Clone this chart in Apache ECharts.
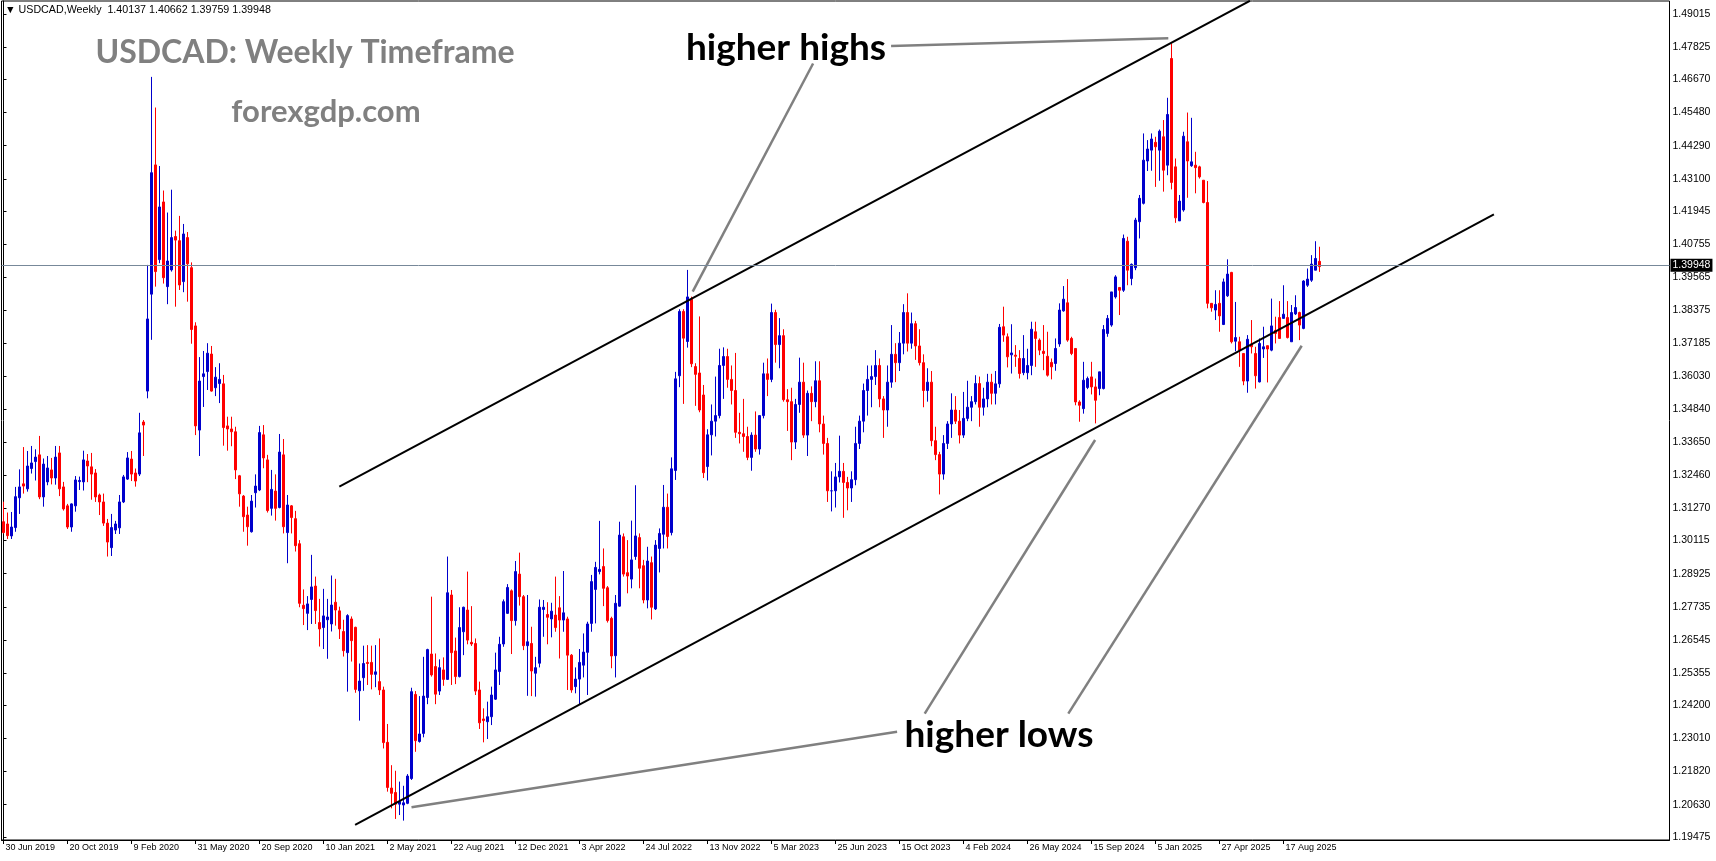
<!DOCTYPE html>
<html><head><meta charset="utf-8">
<script src="https://cdn.jsdelivr.net/npm/echarts@6/dist/echarts.min.js"></script>
<style>html,body{margin:0;padding:0;background:#fff;}#c{width:1716px;height:861px;}</style>
</head><body><div id="c"></div>
<script>
const symbolName = 'USDCAD';
const timeframe = 'Weekly';
const totalSlots = 417;
const xTickLabels = ['30 Jun 2019','20 Oct 2019','9 Feb 2020','31 May 2020','20 Sep 2020','10 Jan 2021','2 May 2021','22 Aug 2021','12 Dec 2021','3 Apr 2022','24 Jul 2022','13 Nov 2022','5 Mar 2023','25 Jun 2023','15 Oct 2023','4 Feb 2024','26 May 2024','15 Sep 2024','5 Jan 2025','27 Apr 2025','17 Aug 2025'];
const yTickLabels = ['1.49015','1.47825','1.46670','1.45480','1.44290','1.43100','1.41945','1.40755','1.39565','1.38375','1.37185','1.36030','1.34840','1.33650','1.32460','1.31270','1.30115','1.28925','1.27735','1.26545','1.25355','1.24200','1.23010','1.21820','1.20630','1.19475'];
const yMin = 1.19364, yMax = 1.49484;

const opens = [
1.3079,1.3071,1.3028,1.3058,1.3165,1.3215,1.3197,1.3270,1.3295,1.3319,
1.3168,1.3222,1.3265,1.3236,1.3326,1.3204,1.3136,1.3060,1.3136,1.3223,
1.3222,1.3297,1.3276,1.3254,1.3175,1.3150,1.3074,1.2986,1.3049,1.3057,
1.3150,1.3232,1.3304,1.3254,1.3250,1.3437,1.3548,1.3896,1.4360,1.4020,
1.4227,1.3923,1.3983,1.4103,1.4088,1.3941,1.4099,1.3991,1.3782,1.3408,
1.3600,1.3618,1.3681,1.3560,1.3575,1.3574,1.3423,1.3412,1.3402,1.3244,
1.3171,1.3103,1.3043,1.3183,1.3193,1.3391,1.3301,1.3127,1.3189,1.3130,
1.3319,1.3040,1.3136,1.3090,1.3000,1.2779,1.2750,1.2800,1.2848,1.2717,
1.2699,1.2727,1.2712,1.2790,1.2759,1.2685,1.2609,1.2730,1.2700,1.2472,
1.2519,1.2574,1.2574,1.2531,1.2505,1.2475,1.2287,1.2123,1.2107,1.2065,
1.2062,1.2068,1.2157,1.2459,1.2290,1.2319,1.2448,1.2604,1.2559,1.2471,
1.2547,1.2513,1.2816,1.2615,1.2523,1.2684,1.2762,1.2646,1.2642,1.2475,
1.2371,1.2361,1.2379,1.2442,1.2541,1.2640,1.2750,1.2831,1.2724,1.2891,
1.2810,1.2634,1.2642,1.2535,1.2571,1.2764,1.2746,1.2730,1.2744,1.2770,
1.2726,1.2730,1.2600,1.2487,1.2514,1.2564,1.2610,1.2714,1.2836,1.2900,
1.2918,1.2842,1.2732,1.2598,1.2776,1.3025,1.2896,1.2873,1.2954,1.3022,
1.2921,1.2798,1.2932,1.2766,1.2983,1.3034,1.3131,1.3040,1.3263,1.3603,
1.3834,1.3726,1.3878,1.3636,1.3613,1.3534,1.3277,1.3391,1.3440,1.3460,
1.3640,1.3672,1.3590,1.3550,1.3400,1.3395,1.3385,1.3310,1.3390,1.3340,
1.3460,1.3610,1.3590,1.3830,1.3715,1.3747,1.3517,1.3510,1.3365,1.3500,
1.3580,1.3390,1.3540,1.3510,1.3585,1.3430,1.3360,1.3190,1.3190,1.3240,
1.3260,1.3220,1.3200,1.3230,1.3360,1.3440,1.3550,1.3590,1.3600,1.3640,
1.3520,1.3480,1.3580,1.3680,1.3650,1.3720,1.3830,1.3720,1.3790,1.3710,
1.3650,1.3550,1.3580,1.3370,1.3320,1.3250,1.3360,1.3430,1.3480,1.3440,
1.3390,1.3450,1.3490,1.3510,1.3575,1.3490,1.3520,1.3580,1.3540,1.3574,
1.3779,1.3743,1.3678,1.3677,1.3665,1.3614,1.3614,1.3640,1.3761,1.3731,
1.3691,1.3673,1.3651,1.3647,1.3717,1.3836,1.3865,1.3737,1.3701,1.3509,
1.3485,1.3561,1.3599,1.3563,1.3557,1.3557,1.3755,1.3785,1.3886,1.3920,
1.3910,1.4086,1.3952,1.3991,1.4156,1.4222,1.4374,1.4413,1.4441,1.4413,
1.4461,1.4359,1.4742,1.4353,1.4159,1.4198,1.4443,1.4357,1.4359,1.4353,
1.4305,1.4225,1.3863,1.3839,1.3863,1.3787,1.3890,1.3974,1.3727,1.3725,
1.3683,1.3584,1.3717,1.3683,1.3581,1.3699,1.3711,1.3695,1.3766,1.3812,
1.3809,1.3812,1.3725,1.3825,1.3830,1.3773,1.3928,1.3946,1.3982,1.40137];
const highs = [
1.3151,1.3112,1.3114,1.3204,1.3267,1.3347,1.3333,1.3351,1.3339,1.3387,
1.3306,1.3315,1.3308,1.3351,1.3351,1.3222,1.3143,1.3145,1.3243,1.3241,
1.3334,1.3322,1.3326,1.3268,1.3180,1.3180,1.3089,1.3107,1.3082,1.3175,
1.3247,1.3329,1.3333,1.3270,1.3470,1.3444,1.4001,1.4676,1.4566,1.4356,
1.4268,1.4189,1.4271,1.4124,1.4177,1.4148,1.4119,1.4010,1.3795,1.3670,
1.3692,1.3720,1.3710,1.3634,1.3648,1.3606,1.3456,1.3456,1.3420,1.3247,
1.3175,1.3133,1.3175,1.3249,1.3423,1.3426,1.3319,1.3265,1.3249,1.3394,
1.3376,1.3175,1.3139,1.3118,1.3013,1.2836,1.2812,1.2960,1.2882,1.2802,
1.2838,1.2802,1.2886,1.2874,1.2774,1.2727,1.2747,1.2739,1.2702,1.2570,
1.2634,1.2636,1.2634,1.2636,1.2660,1.2487,1.2353,1.2205,1.2185,1.2146,
1.2131,1.2173,1.2483,1.2471,1.2453,1.2594,1.2623,1.2810,1.2606,1.2585,
1.2592,1.2954,1.2834,1.2663,1.2772,1.2774,1.2900,1.2776,1.2660,1.2505,
1.2409,1.2433,1.2487,1.2609,1.2666,1.2800,1.2855,1.2836,1.2938,1.2968,
1.2816,1.2816,1.2702,1.2594,1.2800,1.2798,1.2790,1.2788,1.2882,1.2812,
1.2902,1.2738,1.2604,1.2556,1.2622,1.2678,1.2720,1.2888,1.2935,1.3082,
1.2983,1.2848,1.2738,1.2816,1.3079,1.3037,1.3013,1.3083,1.3210,1.3037,
1.2942,1.2989,1.2954,1.3013,1.3055,1.3211,1.3180,1.3310,1.3617,1.3842,
1.3842,1.3983,1.3887,1.3648,1.3816,1.3570,1.3411,1.3500,1.3600,1.3700,
1.3705,1.3700,1.3640,1.3685,1.3470,1.3520,1.3420,1.3400,1.3475,1.3450,
1.3650,1.3665,1.3862,1.3840,1.3810,1.3770,1.3555,1.3560,1.3520,1.3668,
1.3650,1.3550,1.3565,1.3655,1.3655,1.3460,1.3380,1.3260,1.3290,1.3388,
1.3290,1.3240,1.3260,1.3420,1.3460,1.3575,1.3640,1.3640,1.3695,1.3665,
1.3530,1.3640,1.3785,1.3720,1.3760,1.3860,1.3899,1.3830,1.3800,1.3770,
1.3680,1.3630,1.3620,1.3420,1.3330,1.3390,1.3440,1.3540,1.3530,1.3480,
1.3545,1.3585,1.3530,1.3605,1.3600,1.3560,1.3610,1.3610,1.3620,1.3789,
1.3851,1.3755,1.3788,1.3713,1.3695,1.3749,1.3700,1.3797,1.3797,1.3737,
1.3785,1.3761,1.3665,1.3737,1.3863,1.3925,1.3950,1.3743,1.3701,1.3515,
1.3653,1.3600,1.3653,1.3593,1.3617,1.3785,1.3821,1.3904,1.3964,1.3920,
1.4110,1.4102,1.4006,1.4170,1.4252,1.4473,1.4449,1.4473,1.4461,1.4487,
1.4521,1.4601,1.4796,1.4383,1.4252,1.4479,1.4548,1.4529,1.4407,1.4357,
1.4305,1.4302,1.3863,1.3910,1.3910,1.3952,1.4021,1.3976,1.3868,1.3743,
1.3683,1.3749,1.3803,1.3707,1.3737,1.3779,1.3711,1.3880,1.3815,1.3871,
1.3928,1.3871,1.3857,1.3892,1.3833,1.3946,1.3988,1.4036,1.4086,1.40662];
const lows = [
1.3037,1.3017,1.3017,1.3043,1.3107,1.3180,1.3187,1.3252,1.3227,1.3160,
1.3133,1.3210,1.3213,1.3212,1.3171,1.3119,1.3053,1.3043,1.3115,1.3193,
1.3191,1.3221,1.3158,1.3150,1.3103,1.3064,1.2954,1.2956,1.3035,1.3035,
1.3146,1.3229,1.3225,1.3205,1.3243,1.3315,1.3522,1.3732,1.3923,1.4007,
1.3934,1.3860,1.3977,1.3851,1.3911,1.3903,1.3869,1.3718,1.3390,1.3315,
1.3491,1.3552,1.3546,1.3530,1.3505,1.3352,1.3334,1.3350,1.3232,1.3133,
1.3043,1.2993,1.3040,1.3130,1.3189,1.3271,1.3112,1.3101,1.3083,1.3127,
1.3037,1.2930,1.3037,1.2972,1.2772,1.2708,1.2690,1.2712,1.2712,1.2631,
1.2622,1.2587,1.2685,1.2706,1.2658,1.2595,1.2469,1.2577,1.2465,1.2365,
1.2472,1.2493,1.2477,1.2485,1.2457,1.2265,1.2110,1.2050,1.2012,1.2026,
1.2006,1.2065,1.2152,1.2253,1.2286,1.2305,1.2424,1.2523,1.2424,1.2457,
1.2490,1.2511,1.2493,1.2496,1.2520,1.2600,1.2639,1.2633,1.2457,1.2335,
1.2287,1.2299,1.2349,1.2439,1.2493,1.2630,1.2748,1.2604,1.2706,1.2778,
1.2618,1.2454,1.2453,1.2451,1.2556,1.2666,1.2639,1.2664,1.2684,1.2588,
1.2684,1.2475,1.2465,1.2463,1.2424,1.2520,1.2457,1.2684,1.2714,1.2890,
1.2776,1.2717,1.2553,1.2520,1.2774,1.2882,1.2822,1.2840,1.2942,1.2840,
1.2786,1.2768,1.2728,1.2762,1.2897,1.2983,1.2983,1.3030,1.3229,1.3562,
1.3502,1.3704,1.3634,1.3495,1.3472,1.3236,1.3227,1.3317,1.3385,1.3450,
1.3520,1.3560,1.3500,1.3380,1.3360,1.3330,1.3300,1.3262,1.3330,1.3320,
1.3450,1.3530,1.3580,1.3650,1.3630,1.3510,1.3405,1.3300,1.3340,1.3470,
1.3380,1.3315,1.3440,1.3490,1.3400,1.3320,1.3150,1.3116,1.3130,1.3220,
1.3093,1.3120,1.3150,1.3210,1.3340,1.3400,1.3460,1.3490,1.3570,1.3490,
1.3380,1.3420,1.3560,1.3580,1.3620,1.3680,1.3690,1.3700,1.3660,1.3640,
1.3490,1.3510,1.3350,1.3300,1.3177,1.3230,1.3340,1.3380,1.3430,1.3360,
1.3380,1.3440,1.3440,1.3500,1.3420,1.3460,1.3490,1.3500,1.3500,1.3560,
1.3725,1.3633,1.3611,1.3635,1.3593,1.3605,1.3590,1.3605,1.3635,1.3677,
1.3623,1.3600,1.3590,1.3621,1.3707,1.3833,1.3725,1.3677,1.3497,1.3438,
1.3467,1.3555,1.3536,1.3432,1.3533,1.3554,1.3743,1.3779,1.3880,1.3821,
1.3904,1.3928,1.3928,1.3982,1.4096,1.4218,1.4338,1.4339,1.4281,1.4303,
1.4264,1.4323,1.4272,1.4152,1.4159,1.4192,1.4242,1.4353,1.4258,1.4311,
1.4222,1.3845,1.3833,1.3803,1.3761,1.3785,1.3886,1.3719,1.3691,1.3635,
1.3569,1.3542,1.3683,1.3557,1.3579,1.3667,1.3579,1.3691,1.3719,1.3737,
1.3809,1.3737,1.3725,1.3821,1.3731,1.3770,1.3922,1.3940,1.3982,1.39759];
const closes = [
1.3040,1.3029,1.3060,1.3169,1.3204,1.3207,1.3279,1.3290,1.3311,1.3168,
1.3286,1.3272,1.3236,1.3311,1.3197,1.3125,1.3060,1.3143,1.3229,1.3227,
1.3301,1.3279,1.3250,1.3168,1.3150,1.3074,1.3006,1.3058,1.3071,1.3150,
1.3240,1.3308,1.3250,1.3225,1.3398,1.3426,1.3807,1.4332,1.3977,1.4209,
1.3955,1.4015,1.4099,1.4090,1.3929,1.4112,1.4005,1.3769,1.3423,1.3584,
1.3610,1.3684,1.3548,1.3598,1.3590,1.3417,1.3412,1.3402,1.3265,1.3179,
1.3097,1.3061,1.3153,1.3207,1.3399,1.3308,1.3119,1.3195,1.3127,1.3329,
1.3061,1.3139,1.3094,1.2993,1.2786,1.2767,1.2784,1.2845,1.2760,1.2694,
1.2741,1.2737,1.2780,1.2762,1.2694,1.2616,1.2742,1.2652,1.2477,1.2507,
1.2570,1.2570,1.2531,1.2540,1.2475,1.2286,1.2125,1.2104,1.2065,1.2074,
1.2070,1.2166,1.2469,1.2293,1.2317,1.2453,1.2620,1.2529,1.2460,1.2555,
1.2513,1.2824,1.2609,1.2523,1.2699,1.2772,1.2654,1.2640,1.2471,1.2357,
1.2365,1.2379,1.2457,1.2547,1.2639,1.2792,1.2843,1.2724,1.2900,1.2810,
1.2634,1.2648,1.2543,1.2555,1.2772,1.2772,1.2736,1.2758,1.2699,1.2726,
1.2752,1.2600,1.2475,1.2514,1.2574,1.2611,1.2712,1.2864,1.2915,1.2908,
1.2840,1.2724,1.2597,1.2786,1.3031,1.2891,1.2884,1.2942,1.3028,1.2912,
1.2798,1.2938,1.2772,1.2995,1.3037,1.3131,1.3026,1.3269,1.3592,1.3834,
1.3738,1.3886,1.3646,1.3608,1.3480,1.3255,1.3391,1.3440,1.3460,1.3640,
1.3672,1.3590,1.3550,1.3400,1.3395,1.3385,1.3310,1.3390,1.3340,1.3460,
1.3610,1.3590,1.3830,1.3715,1.3747,1.3517,1.3510,1.3365,1.3500,1.3580,
1.3390,1.3540,1.3510,1.3585,1.3430,1.3360,1.3190,1.3190,1.3240,1.3260,
1.3220,1.3200,1.3230,1.3360,1.3440,1.3550,1.3590,1.3600,1.3640,1.3520,
1.3480,1.3580,1.3680,1.3650,1.3720,1.3830,1.3720,1.3790,1.3710,1.3650,
1.3550,1.3580,1.3370,1.3320,1.3250,1.3360,1.3430,1.3480,1.3440,1.3390,
1.3450,1.3490,1.3510,1.3575,1.3490,1.3520,1.3580,1.3540,1.3574,1.3777,
1.3749,1.3671,1.3685,1.3673,1.3611,1.3665,1.3640,1.3770,1.3737,1.3695,
1.3683,1.3605,1.3635,1.3701,1.3839,1.3878,1.3731,1.3683,1.3509,1.3497,
1.3587,1.3593,1.3563,1.3515,1.3617,1.3769,1.3809,1.3904,1.3958,1.3910,
1.4096,1.3982,1.4003,1.4162,1.4240,1.4377,1.4417,1.4453,1.4425,1.4481,
1.4341,1.4541,1.4297,1.4170,1.4230,1.4463,1.4374,1.4371,1.4350,1.4317,
1.4225,1.3863,1.3847,1.3859,1.3818,1.3940,1.3968,1.3725,1.3740,1.3695,
1.3584,1.3734,1.3707,1.3603,1.3719,1.3707,1.3699,1.3782,1.3755,1.3737,
1.3824,1.3740,1.3830,1.3848,1.3785,1.3943,1.3950,1.4004,1.4024,1.39948];

// annotation lines in [bar index, price]
const upperChannel = [[83.95, 1.32048], [311.6, 1.49490]];
const lowerChannel = [[87.9, 1.19903], [372.6, 1.41820]];
const highsPointers = [
  [[221.9, 1.47869], [291.2, 1.48145]],
  [[202.4, 1.47240], [172.3, 1.39048]]
];
const lowsPointers = [
  [[223.4, 1.23250], [102.0, 1.20538]],
  [[230.3, 1.23902], [272.9, 1.33724]],
  [[266.2, 1.23902], [324.55, 1.37109]]
];

const months = ['Jan','Feb','Mar','Apr','May','Jun','Jul','Aug','Sep','Oct','Nov','Dec'];
const categories = [];
const t0 = Date.UTC(2019, 5, 30);
for (let k = 0; k < totalSlots; k++) {
  const d = new Date(t0 + k * 7 * 86400000);
  categories.push(d.getUTCDate() + ' ' + months[d.getUTCMonth()] + ' ' + d.getUTCFullYear());
}
const last = opens.length - 1;
const candleData = opens.map((o, i) => [o, closes[i], lows[i], highs[i]]);
const yTickValues = yTickLabels.map(Number);
const showIdx = (i) => i % 16 === 0 && (i / 16) < xTickLabels.length;
const FONT = '"Liberation Sans", "DejaVu Sans", sans-serif';

const lineSeries = (data, color, width) => ({
  type: 'line', xAxisIndex: 1, yAxisIndex: 0, data: data, symbol: 'none', silent: true,
  lineStyle: { color: color, width: width }, z: 4, animation: false, clip: true
});

const chart = echarts.init(document.getElementById('c'));
const option = {
  animation: false,
  backgroundColor: '#ffffff',
  grid: { left: 1.5, right: 46.5, top: 1, bottom: 21, show: true, borderColor: '#000', borderWidth: 1, backgroundColor: 'transparent' },
  xAxis: [
    {
      type: 'category', data: categories, boundaryGap: true,
      axisLine: { show: true, lineStyle: { color: '#000', width: 1 } },
      axisTick: { show: true, interval: (i) => showIdx(i), alignWithLabel: true, length: 4, lineStyle: { color: '#000' } },
      axisLabel: { interval: (i) => showIdx(i), formatter: (v, i) => (showIdx(i) ? xTickLabels[i / 16] : ''), align: 'left', margin: 3, color: '#000', fontSize: 9, fontFamily: FONT, padding: [0, 0, 0, 2] },
      splitLine: { show: false }
    },
    { type: 'value', min: -0.5, max: totalSlots - 0.5, show: false }
  ],
  yAxis: {
    type: 'value', position: 'right', min: yMin, max: yMax,
    splitLine: { show: false },
    axisLine: { show: true, lineStyle: { color: '#000' } },
    axisTick: { show: true, length: 3, customValues: yTickValues, lineStyle: { color: '#000' } },
    axisLabel: { customValues: yTickValues, formatter: (v) => Number(v).toFixed(5), color: '#000', fontSize: 10.5, fontFamily: FONT, margin: 3 }
  },
  series: [
    {
      type: 'candlestick', data: candleData, barWidth: 2, z: 3,
      itemStyle: { color: '#0000CC', color0: '#FF0000', borderColor: '#0000CC', borderColor0: '#FF0000', borderWidth: 1 },
      markLine: {
        silent: true, symbol: ['none', 'none'], animation: false,
        lineStyle: { color: '#778899', width: 1, type: 'solid' },
        label: { show: true, position: 'end', formatter: closes[last].toFixed(5), color: '#fff', backgroundColor: '#000', padding: [1, 2, 1, 2], fontSize: 10.5, fontFamily: FONT, distance: 1 },
        data: [{ yAxis: closes[last] }]
      }
    },
    lineSeries(upperChannel, '#000000', 2),
    lineSeries(lowerChannel, '#000000', 2),
    ...highsPointers.map(d => lineSeries(d, '#808080', 2.5)),
    ...lowsPointers.map(d => lineSeries(d, '#808080', 2.5))
  ],
  graphic: [
    { type: 'text', x: 5, y: 10, style: { text: '\u25BC ' + symbolName + ',' + timeframe + '  ' + [opens[last], highs[last], lows[last], closes[last]].map(v => v.toFixed(5)).join(' '), font: '10.7px ' + FONT, fill: '#000', verticalAlign: 'middle', textVerticalAlign: 'middle' } },
    { type: 'text', x: 305, y: 53, style: { text: symbolName + ': ' + timeframe + ' Timeframe', font: 'bold 32px Lato, "Open Sans", sans-serif', fill: '#808080', align: 'center', verticalAlign: 'middle', textAlign: 'center', textVerticalAlign: 'middle' } },
    { type: 'text', x: 326, y: 112, style: { text: 'forexgdp.com', font: 'bold 31px Lato, "Open Sans", sans-serif', fill: '#808080', align: 'center', verticalAlign: 'middle', textAlign: 'center', textVerticalAlign: 'middle' } },
    { type: 'text', x: 786, y: 48, style: { text: 'higher highs', font: 'bold 37px Lato, "Open Sans", sans-serif', fill: '#000', align: 'center', verticalAlign: 'middle', textAlign: 'center', textVerticalAlign: 'middle' } },
    { type: 'text', x: 999, y: 735, style: { text: 'higher lows', font: 'bold 37px Lato, "Open Sans", sans-serif', fill: '#000', align: 'center', verticalAlign: 'middle', textAlign: 'center', textVerticalAlign: 'middle' } }
  ]
};
chart.setOption(option);
</script>
</body></html>
